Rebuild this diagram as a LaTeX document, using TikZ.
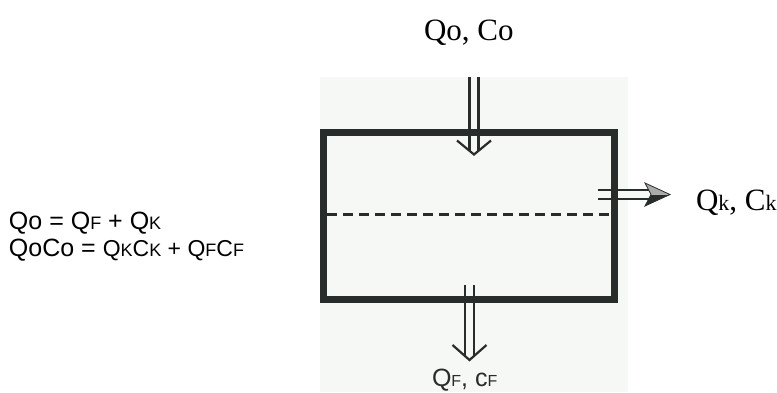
\documentclass[tikz,border=0pt]{standalone}
\usepackage{fontspec}
\setmainfont{Liberation Serif}
\newfontfamily\arialf{Liberation Sans}
\usetikzlibrary{calc}
\definecolor{ink}{RGB}{40,44,42}
\definecolor{paper}{RGB}{246,248,245}
\newcommand\fsz[1]{\fontsize{#1}{#1}\selectfont}
\begin{document}
\begin{tikzpicture}[x=1pt,y=-1pt,
  label/.style={anchor=base west,inner sep=0pt,outer sep=0pt},
  flow/.style={draw=ink,double=paper,line width=2.2pt,double distance=6.8pt},
  headline/.style={draw=ink,line width=2.2pt,line join=miter,line cap=butt},
  tankbox/.style={draw=ink,line width=7pt,inner sep=0pt,minimum width=290.5pt,minimum height=167pt},
  level/.style={draw=ink,line width=3pt,dash pattern=on 10pt off 6pt}]
\useasboundingbox (0,0) rectangle (777,392);
\fill[paper] (320,77) rectangle (628,392);
% coordinates of the flows
\coordinate (topS) at (474,77);
\coordinate (topE) at (474,150.5);
\coordinate (topT) at (474,154.5);
\coordinate (botS) at (469.5,285);
\coordinate (botE) at (469.5,356);
\coordinate (botT) at (469.5,360);
\coordinate (rS) at (598,194.5);
\coordinate (rE) at (652,194.5);
\coordinate (rT) at (670,194.5);
\coordinate (dl) at (327,214);
\coordinate (dr) at (610.5,214);
% flows
\draw[flow] (topS) -- (topE);
\draw[headline] ($(topT)+(-17,-14)$) -- (topT) -- ($(topT)+(17,-14)$);
\draw[flow] (botS) -- (botE);
\draw[headline] ($(botT)+(-17,-15)$) -- (botT) -- ($(botT)+(17,-15)$);
\draw[flow] (rS) -- (rE);
\fill[ink] ($(rT)+(-25,11.5)$) -- (rT) -- ($(rT)+(-19,0)$) -- cycle;
\fill[ink!40] ($(rT)+(-25,-11.5)$) -- (rT) -- ($(rT)+(-19,0)$) -- cycle;
\draw[ink,line width=0.8pt,line join=miter] ($(rT)+(-25,-11.5)$) -- (rT) -- ($(rT)+(-25,11.5)$) -- ($(rT)+(-19,0)$) -- cycle;
% tank
\node[tankbox] (tank) at (468.75,215.5) {};
\draw[level] (dl) -- (dr);
% labels
\node[label,font=\fsz{31}] (lo) at (424,40) {Qo, Co};
\node[label,font=\fsz{31}] (lk) at (696,210) {Q{\fsz{22}k}, C{\fsz{22}k}};
\node[label,font=\arialf\fsz{25},text=ink] (lf) at (432,386) {Q{\fsz{16}F}, c{\fsz{16}F}};
\node[label,font=\arialf\fsz{25}] (eq1) at (9,229) {Qo = Q{\fsz{18}F} + Q{\fsz{18}K}};
\node[label,font=\arialf\fsz{25}] (eq2) at (9,256) {QoCo = {\fsz{23}Q{\fsz{18}K}C{\fsz{18}K} + Q{\fsz{18}F}C{\fsz{18}F}}};
\end{tikzpicture}
\end{document}
